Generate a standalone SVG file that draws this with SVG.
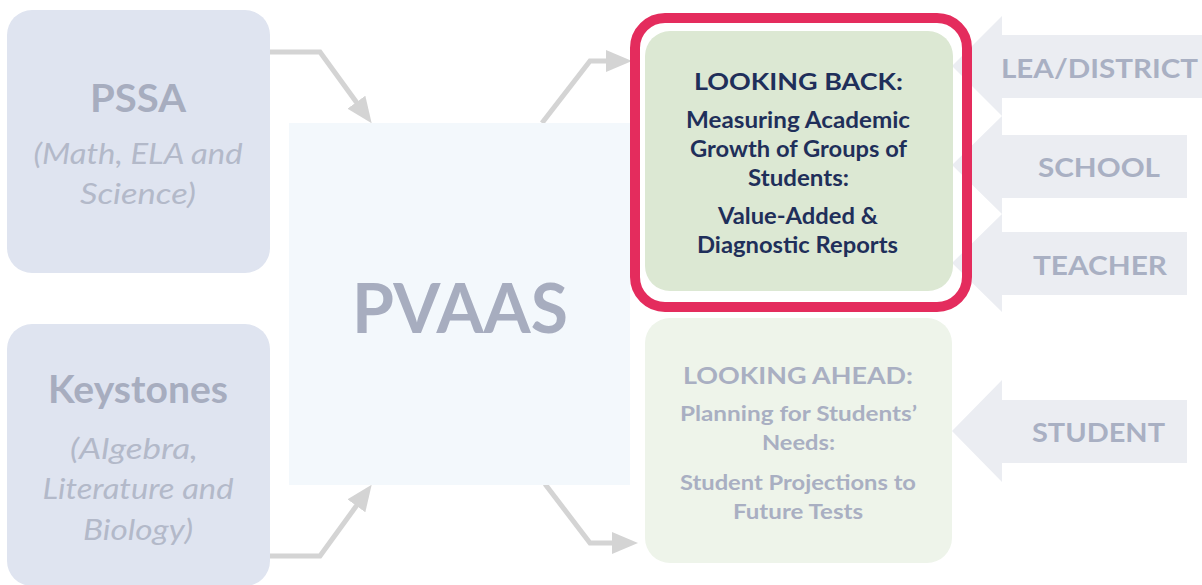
<svg xmlns="http://www.w3.org/2000/svg" width="1202" height="585" viewBox="0 0 1202 585">
<defs>
<marker id="ah" viewBox="0 0 26 22" refX="1" refY="11" markerWidth="26" markerHeight="22" markerUnits="userSpaceOnUse" orient="auto">
<path d="M0,0 L26,11 L0,22 z" fill="#d4d4d4"/>
</marker>
<style>
.src{fill:#dfe4f0}
.t{font-family:Lato,"Open Sans","Liberation Sans",sans-serif;text-anchor:middle}
.h{font-weight:700;fill:#a7adbf}
.it{font-style:italic;fill:#b3b9c9}
.conn{fill:none;stroke:#d4d4d4;stroke-width:5;marker-end:url(#ah)}
.blk{fill:#ebedf2}
.bl{font-weight:700;fill:#a9b0c3;font-size:27px}
.nv{fill:#1f2f5a;font-weight:700}
.gy{fill:#a9afc2;font-weight:700}
</style>
</defs>
<rect width="1202" height="585" fill="#ffffff"/>

<g id="connectors">
<path class="conn" d="M270,52 L320,52 L357,103"/>
<path class="conn" d="M542,123 L590,61 L607,61"/>
<path class="conn" d="M270,556 L320,556 L357,505"/>
<path class="conn" d="M545,484 L590,543 L613,543"/>
</g>

<g id="pssa">
<rect class="src" x="7" y="10" width="263" height="263" rx="25"/>
<text class="t h" x="138" y="112" font-size="38" textLength="96" lengthAdjust="spacingAndGlyphs">PSSA</text>
<text class="t it" x="138" y="164" font-size="29" textLength="209" lengthAdjust="spacingAndGlyphs">(Math, ELA and</text>
<text class="t it" x="138" y="204" font-size="29" textLength="116" lengthAdjust="spacingAndGlyphs">Science)</text>
</g>

<g id="keystones">
<rect class="src" x="7" y="324" width="263" height="262" rx="25"/>
<text class="t h" x="138" y="403" font-size="38" textLength="180" lengthAdjust="spacingAndGlyphs">Keystones</text>
<text class="t it" x="134" y="459" font-size="29" textLength="128" lengthAdjust="spacingAndGlyphs">(Algebra,</text>
<text class="t it" x="138" y="499" font-size="29" textLength="191" lengthAdjust="spacingAndGlyphs">Literature and</text>
<text class="t it" x="138" y="540" font-size="29" textLength="110" lengthAdjust="spacingAndGlyphs">Biology)</text>
</g>

<g id="pvaas">
<rect x="289" y="123" width="341" height="362" fill="#f3f8fc"/>
<text class="t h" x="460" y="333" font-size="68" fill="#a8adbd" textLength="216" lengthAdjust="spacingAndGlyphs">PVAAS</text>
</g>

<g id="lea-district">
<polygon class="blk" points="952,66 1002,16 1002,35 1202,35 1202,98 1002,98 1002,116"/>
<text class="t bl" x="1099.5" y="78" textLength="197" lengthAdjust="spacingAndGlyphs">LEA/DISTRICT</text>
</g>
<g id="school">
<polygon class="blk" points="952,165 1002,116 1002,135 1187,135 1187,198 1002,198 1002,214"/>
<text class="t bl" x="1099" y="177" textLength="122" lengthAdjust="spacingAndGlyphs">SCHOOL</text>
</g>
<g id="teacher">
<polygon class="blk" points="952,263 1002,214 1002,232 1187,232 1187,295 1002,295 1002,312"/>
<text class="t bl" x="1100" y="275" textLength="134" lengthAdjust="spacingAndGlyphs">TEACHER</text>
</g>
<g id="student">
<polygon class="blk" points="952,431 1002,380 1002,400 1187,400 1187,463 1002,463 1002,482"/>
<text class="t bl" x="1098.5" y="442" textLength="133" lengthAdjust="spacingAndGlyphs">STUDENT</text>
</g>

<g id="looking-back">
<rect x="645" y="31" width="308" height="260" rx="25" fill="#dce8d3"/>
<rect x="635" y="18" width="332" height="289" rx="30" fill="none" stroke="#e42c5d" stroke-width="10"/>
<text class="t nv" x="798.5" y="90" font-size="23" textLength="209" lengthAdjust="spacingAndGlyphs">LOOKING BACK:</text>
<text class="t nv" x="798" y="128" font-size="22" textLength="224" lengthAdjust="spacingAndGlyphs">Measuring Academic</text>
<text class="t nv" x="798.5" y="157" font-size="22" textLength="217" lengthAdjust="spacingAndGlyphs">Growth of Groups of</text>
<text class="t nv" x="798.5" y="186" font-size="22" textLength="101" lengthAdjust="spacingAndGlyphs">Students:</text>
<text class="t nv" x="798" y="224" font-size="22" textLength="160" lengthAdjust="spacingAndGlyphs">Value-Added &amp;</text>
<text class="t nv" x="797.5" y="253" font-size="22" textLength="201" lengthAdjust="spacingAndGlyphs">Diagnostic Reports</text>
</g>

<g id="looking-ahead">
<rect x="645" y="318" width="307" height="245" rx="25" fill="#eef4ea"/>
<text class="t gy" x="798" y="384" font-size="23" textLength="230" lengthAdjust="spacingAndGlyphs">LOOKING AHEAD:</text>
<text class="t gy" x="798.5" y="421" font-size="21" textLength="237" lengthAdjust="spacingAndGlyphs">Planning for Students’</text>
<text class="t gy" x="798.5" y="450" font-size="21" textLength="73" lengthAdjust="spacingAndGlyphs">Needs:</text>
<text class="t gy" x="798" y="490" font-size="21" textLength="236" lengthAdjust="spacingAndGlyphs">Student Projections to</text>
<text class="t gy" x="798" y="519" font-size="21" textLength="130" lengthAdjust="spacingAndGlyphs">Future Tests</text>
</g>
</svg>
